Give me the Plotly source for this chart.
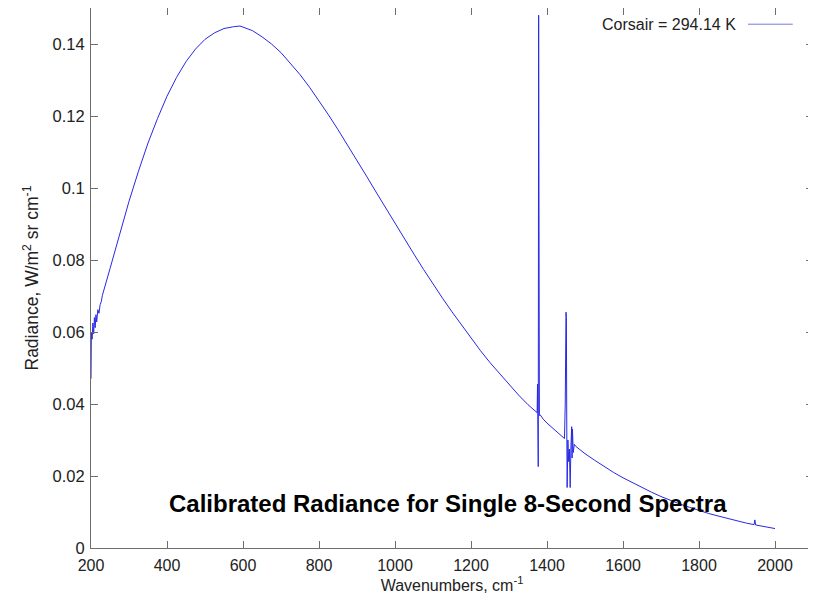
import plotly.graph_objects as go

# ---- data ----
wavenumber = [
    200, 201, 203, 205, 207, 209, 211, 213, 215, 218, 221, 224, 227, 230,
    250, 275, 300, 325, 350, 375, 400, 425, 450, 475, 500, 525, 550, 575,
    592, 600, 625, 650, 675, 700, 725, 750, 775, 800, 825, 850, 875, 900,
    925, 950, 975, 1000, 1025, 1050, 1075, 1100, 1125, 1150, 1175, 1200,
    1225, 1250, 1275, 1300, 1325, 1350, 1365, 1370, 1374, 1375, 1376, 1377,
    1378, 1379, 1380, 1382, 1390, 1400, 1425, 1440, 1446, 1448, 1450, 1451,
    1452, 1453, 1455, 1457, 1459, 1461, 1463, 1465, 1466, 1467, 1469, 1472,
    1476, 1500, 1525, 1550, 1575, 1600, 1625, 1650, 1675, 1700, 1725, 1750,
    1775, 1800, 1825, 1850, 1875, 1900, 1925, 1945, 1947, 1949, 1975, 2000,
]
radiance = [
    0.0470, 0.0600, 0.0580, 0.0625, 0.0595, 0.0640, 0.0612, 0.0648, 0.0628, 0.0662, 0.0652, 0.0676, 0.0684, 0.0702,
    0.0776, 0.0872, 0.0963, 0.1047, 0.1125, 0.1193, 0.1255, 0.1307, 0.1351, 0.1386, 0.1413, 0.1431, 0.1443, 0.1448,
    0.1450, 0.1447, 0.1437, 0.1420, 0.1400, 0.1376, 0.1347, 0.1315, 0.1280, 0.1243, 0.1203, 0.1162, 0.1120, 0.1077,
    0.1033, 0.0989, 0.0945, 0.0901, 0.0858, 0.0816, 0.0774, 0.0733, 0.0694, 0.0656, 0.0619, 0.0583,
    0.0548, 0.0515, 0.0484, 0.0454, 0.0425, 0.0398, 0.0384, 0.0379, 0.0376, 0.0455, 0.0360, 0.0226,
    0.1480, 0.0460, 0.0368, 0.0370, 0.0358, 0.0347, 0.0324, 0.0310, 0.0304, 0.0400, 0.0655, 0.0640,
    0.0350, 0.0168, 0.0300, 0.0240, 0.0275, 0.0168, 0.0285, 0.0337, 0.0250, 0.0330, 0.0265, 0.0288,
    0.0282, 0.0262, 0.0244, 0.0226, 0.0210, 0.0195, 0.0181, 0.0167, 0.0155, 0.0143, 0.0132, 0.0122,
    0.0113, 0.0104, 0.0096, 0.0089, 0.0082, 0.0075, 0.0069, 0.0065, 0.0078, 0.0064, 0.0059, 0.0054,
]
assert len(wavenumber) == len(radiance)

x_ticks = [200, 400, 600, 800, 1000, 1200, 1400, 1600, 1800, 2000]
y_ticks = [0, 0.02, 0.04, 0.06, 0.08, 0.1, 0.12, 0.14]
y_tick_labels = ["0", "0.02", "0.04", "0.06", "0.08", "0.1", "0.12", "0.14"]

series_name = "Corsair = 294.14 K"
chart_title = "Calibrated Radiance for Single 8-Second Spectra"

LINE_COLOR = "rgb(40,40,230)"
AXIS_COLOR = "rgb(110,110,110)"
FONT = "Liberation Sans, Arial, Helvetica, sans-serif"

fig = go.Figure()
fig.add_trace(go.Scatter(
    x=wavenumber, y=radiance, mode="lines", name=series_name,
    line=dict(color=LINE_COLOR, width=1), showlegend=False,
))

axis_common = dict(
    showline=True, linecolor=AXIS_COLOR, linewidth=1, mirror="ticks",
    ticks="inside", ticklen=7, tickcolor=AXIS_COLOR, tickwidth=1,
    showgrid=False, zeroline=False, automargin=False,
)

fig.update_xaxes(
    range=[200, 2100], tickvals=x_ticks,
    ticklabelstandoff=3,
    tickfont=dict(family=FONT, size=16, color="#222"),
    title=dict(text="Wavenumbers, cm<sup>-1</sup>",
               font=dict(family=FONT, size=16, color="#222"), standoff=4),
    **axis_common,
)
fig.update_yaxes(
    range=[0, 0.15], tickvals=y_ticks, ticktext=y_tick_labels,
    ticklabelstandoff=2,
    tickfont=dict(family=FONT, size=16.5, color="#222"),
    title=dict(text="Radiance, W/m<sup>2</sup> sr cm<sup>-1</sup>",
               font=dict(family=FONT, size=17.5, color="#222"), standoff=9),
    **axis_common,
)

# legend key (gnuplot style: text then sample line on the right)
fig.add_annotation(
    x=0.896, y=0.970, xref="paper", yref="paper", xanchor="right", yanchor="middle",
    text=series_name, showarrow=False, font=dict(family=FONT, size=16, color="#222"),
)
fig.add_shape(
    type="line", xref="paper", yref="paper", x0=0.910, x1=0.972, y0=0.970, y1=0.970,
    line=dict(color="rgb(120,120,225)", width=1),
)

fig.add_annotation(
    x=0.495, y=0.0833, xref="paper", yref="paper", xanchor="center", yanchor="middle",
    text="<b>" + chart_title + "</b>", showarrow=False,
    font=dict(family=FONT, size=24, color="#000"),
)

# the page body adds an 8px offset, so the figure is 8px smaller on each side
fig.update_layout(
    width=808, height=596,
    margin=dict(l=83, r=3, t=0, b=56, pad=0),
    paper_bgcolor="white", plot_bgcolor="white",
)

fig.write_html("out.html")
